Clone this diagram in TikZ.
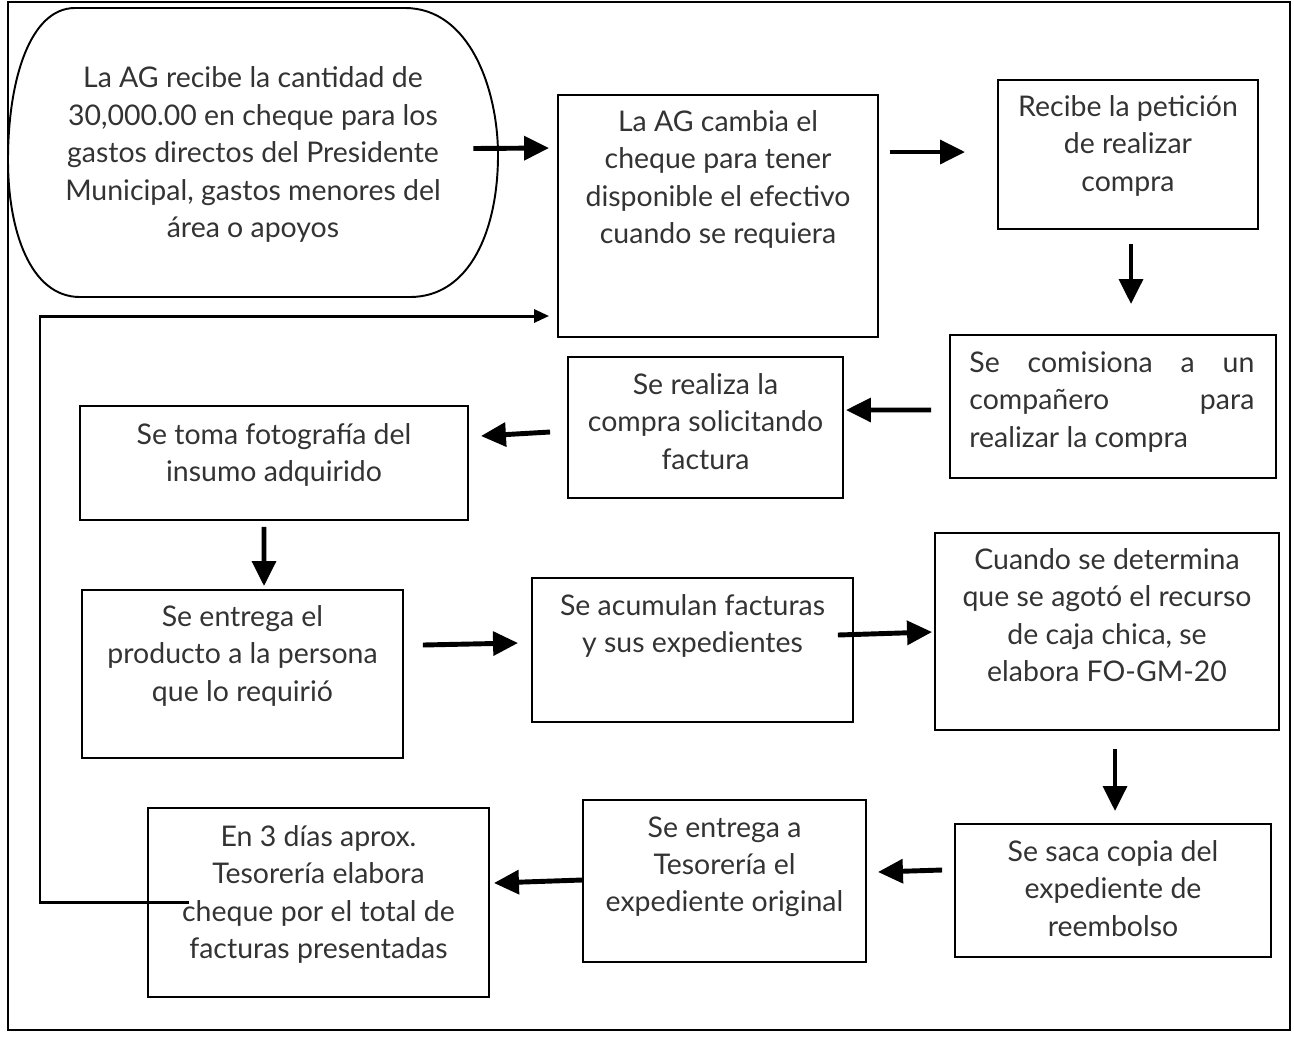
\documentclass[tikz,border=0pt]{standalone}
\usepackage{fontspec}
\setmainfont{Lato}
\usepackage{tikz}
\usetikzlibrary{calc,arrows.meta,positioning}
\hbadness=10000

\tikzset{
  caja/.style={draw, line width=1.1pt, rectangle, inner sep=0pt},
  texto/.style={font=\fontsize{16.2}{21.3}\selectfont, align=center, inner sep=0pt, text=black!80},
  flecha/.style={line width=2.8pt, -{Triangle[length=0.5cm,width=0.47cm]}},
  retro/.style={line width=1.7pt, -{Triangle[length=0.3cm,width=0.26cm]}},
}

\begin{document}
\begin{tikzpicture}[x=0.02cm, y=-0.02cm]
    \useasboundingbox (0,0) rectangle (1294,1039);
    \draw[line width=1pt] (8,2) rectangle (1290,1030);
    % inicio
    \node[minimum width=9.8cm, minimum height=5.78cm, inner sep=0pt](inicio) at (253,152.5){};
    \draw[line width=1.1pt] (75,8) -- (405,8) .. controls (470,8) and (498,90) .. (498,155)
        .. controls (498,230) and (470,297) .. (410,297) -- (80,297)
        .. controls (30,297) and (8,230) .. (8,160) .. controls (8,80) and (30,8) .. (75,8) -- cycle;
    \node[texto, below=1.18cm of inicio.north](inicio-t){La AG recibe la cantidad de\\30,000.00 en cheque para los\\gastos directos del Presidente\\Municipal, gastos menores del\\área o apoyos};
    % cajas
    \node[caja, minimum width=6.4cm, minimum height=4.84cm](cambia) at (718,216){};
    \node[texto, below=0.32cm of cambia.north](cambia-t){La AG cambia el\\cheque para tener\\disponible el efectivo\\cuando se requiera};
    \node[caja, minimum width=5.2cm, minimum height=2.98cm](recibe) at (1128,154.5){};
    \node[texto, below=0.32cm of recibe.north](recibe-t){Recibe la petición\\de realizar\\compra};
    \node[caja, minimum width=6.52cm, minimum height=2.86cm](comisiona) at (1113,406.5){};
    \node[texto, align=justify, text width=5.7cm, anchor=north west, below right=0.34cm and 0.4cm of comisiona.north west](comisiona-t){Se comisiona a un\linebreak compañero para\linebreak realizar la compra};
    \node[caja, minimum width=5.5cm, minimum height=2.82cm](realiza) at (705.5,427.5){};
    \node[texto, below=0.34cm of realiza.north](realiza-t){Se realiza la\\compra solicitando\\factura};
    \node[caja, minimum width=7.76cm, minimum height=2.28cm](foto) at (274,463){};
    \node[texto, below=0.36cm of foto.north](foto-t){Se toma fotografía del\\insumo adquirido};
    \node[caja, minimum width=6.42cm, minimum height=3.36cm](entrega) at (242.5,674){};
    \node[texto, below=0.32cm of entrega.north](entrega-t){Se entrega el\\producto a la persona\\que lo requirió};
    \node[caja, minimum width=6.42cm, minimum height=2.88cm](acumulan) at (692.5,650){};
    \node[texto, below=0.34cm of acumulan.north](acumulan-t){Se acumulan facturas\\y sus expedientes};
    \node[caja, minimum width=6.88cm, minimum height=3.94cm](cuando) at (1107,631.5){};
    \node[texto, below=0.32cm of cuando.north](cuando-t){Cuando se determina\\que se agotó el recurso\\de caja chica, se\\elabora FO-GM-20};
    \node[caja, minimum width=6.32cm, minimum height=2.66cm](copia) at (1113,890.5){};
    \node[texto, below=0.34cm of copia.north](copia-t){Se saca copia del\\expediente de\\reembolso};
    \node[caja, minimum width=5.66cm, minimum height=3.24cm](tesoreria) at (724.5,881){};
    \node[texto, below=0.34cm of tesoreria.north](tesoreria-t){Se entrega a\\Tesorería el\\expediente original};
    \node[caja, minimum width=6.82cm, minimum height=3.78cm](cheque) at (318.5,902.5){};
    \node[texto, below=0.36cm of cheque.north](cheque-t){En 3 días aprox.\\Tesorería elabora\\cheque por el total de\\facturas presentadas};
    % flechas
    \draw[flecha] ($(inicio.east)+(-25,-4)$) -- ($(cambia.west)+(-8,-68)$);
    \draw[flecha] ($(cambia.east)+(11,-64)$) -- ($(recibe.west)+(-32,-2.5)$);
    \draw[flecha] ($(recibe.south)+(3,14)$) -- ($(comisiona.north)+(18,-30)$);
    \draw[flecha] ($(comisiona.west)+(-18,3.5)$) -- ($(realiza.east)+(2,-17.5)$);
    \draw[flecha] ($(realiza.west)+(-17,4.5)$) -- ($(foto.east)+(12,-27)$);
    \draw[flecha] ($(foto.south)+(-10,6)$) -- ($(entrega.north)+(21.5,-3)$);
    \draw[flecha] ($(entrega.east)+(19,-29)$) -- ($(acumulan.west)+(-13,-7)$);
    \draw[flecha] ($(acumulan.east)+(-16,-15)$) -- ($(cuando.west)+(-2,0.5)$);
    \draw[flecha] ($(cuando.south)+(8,18)$) -- ($(copia.north)+(2,-12)$);
    \draw[flecha] ($(copia.west)+(-12,-20.5)$) -- ($(tesoreria.east)+(11,-9)$);
    \draw[flecha] ($(tesoreria.west)+(0,-1)$) -- ($(cheque.east)+(4,-19.5)$);
    % retorno
    \coordinate (retorno) at (40,316);
    \draw[retro] ($(cheque.west)+(42,0)$) -| (retorno) -- ($(cambia.west)+(-8,100)$);
\end{tikzpicture}
\end{document}
